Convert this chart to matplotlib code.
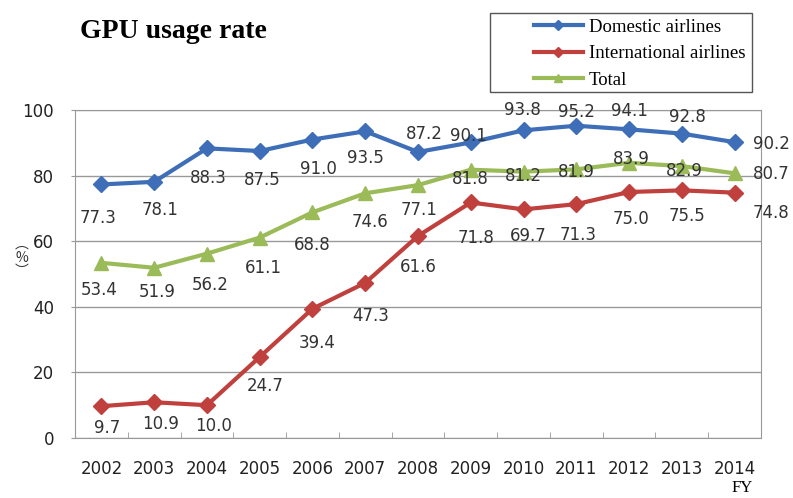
import matplotlib
matplotlib.use("Agg")
import matplotlib.pyplot as plt
from matplotlib.patches import Rectangle
import numpy as np

years = ["2002", "2003", "2004", "2005", "2006", "2007", "2008",
         "2009", "2010", "2011", "2012", "2013", "2014"]
domestic = [77.3, 78.1, 88.3, 87.5, 91.0, 93.5, 87.2, 90.1, 93.8, 95.2, 94.1, 92.8, 90.2]
international = [9.7, 10.9, 10.0, 24.7, 39.4, 47.3, 61.6, 71.8, 69.7, 71.3, 75.0, 75.5, 74.8]
total = [53.4, 51.9, 56.2, 61.1, 68.8, 74.6, 77.1, 81.8, 81.2, 81.9, 83.9, 82.9, 80.7]

# label offsets in pixels (dx, dy downward)
off_dom = [(-3, 34), (6, 28), (1, 30), (3, 29), (6, 29), (0, 27), (6, -18),
           (-2, -6), (-1, -20), (0, -14), (0, -18), (6, -17), (37, 2)]
off_int = [(6, 22), (6, 22), (7, 21), (5, 29), (5, 34), (5, 33), (0, 31),
           (5, 36), (5, 27), (2, 31), (2, 27), (5, 26), (36, 20)]
off_tot = [(-2, 27), (3, 24), (3, 31), (4, 30), (0, 33), (5, 29), (1, 25),
           (0, 9), (0, 4), (0, 3), (2, -4), (2, 5), (37, 1)]

c_dom = "#3E6EB8"
c_int = "#C0403D"
c_tot = "#9BBB59"

W, H = 793, 498
fig = plt.figure(figsize=(W / 100, H / 100), dpi=100)
ax = fig.add_axes([75 / W, 60 / H, 686 / W, 328 / H])

x = np.arange(len(years))
l1, = ax.plot(x, domestic, color=c_dom, lw=3, marker="D", ms=8.5, label="Domestic airlines", zorder=3)
l2, = ax.plot(x, international, color=c_int, lw=3, marker="D", ms=8.5, label="International airlines", zorder=3)
l3, = ax.plot(x, total, color=c_tot, lw=3, marker="^", ms=9.5, label="Total", zorder=3)

for vals, offs in [(domestic, off_dom), (international, off_int), (total, off_tot)]:
    for xi, v, (dx, dy) in zip(x, vals, offs):
        ax.annotate(f"{v:.1f}", (xi, v), xytext=(dx, -dy), textcoords="offset pixels",
                    ha="center", va="center", fontsize=12, color="#333333",
                    annotation_clip=False, zorder=4)

ax.set_xlim(-0.5, len(years) - 0.5)
ax.set_ylim(0, 100)
ax.set_yticks([0, 20, 40, 60, 80, 100])
ax.set_xticks(x)
ax.set_xticklabels(years)
ax.set_xticks(np.arange(-0.5, len(years)), minor=True)
ax.tick_params(axis="x", which="major", length=0, pad=16, labelsize=12, labelcolor="#222222")
ax.tick_params(axis="x", which="minor", direction="in", length=4, color="#999999")
ax.tick_params(axis="y", length=3, pad=12, labelsize=12, color="#999999", labelcolor="#222222")
ax.grid(axis="y", color="#999999", lw=1)
ax.set_axisbelow(True)
for s in ax.spines.values():
    s.set_color("#999999")

fig.text(80 / W, 1 - 31 / H, "GPU usage rate", fontsize=20, fontweight="bold",
         family="Liberation Serif", va="center", ha="left")
fig.text(742 / W, 1 - 488 / H, "FY", fontsize=12, family="Liberation Serif",
         va="center", ha="center")

# vertical-style "(%)" unit label
fig.text(22 / W, 1 - 258 / H, "︵\n%\n︶", fontsize=10, family=["Noto Sans CJK JP", "DejaVu Sans"],
         va="center", ha="center", multialignment="center", linespacing=0.95, color="#333333")

# legend box
fig.add_artist(Rectangle((490 / W, 1 - 92 / H), 262 / W, 79 / H, transform=fig.transFigure,
                         facecolor="white", edgecolor="#555555", lw=1, zorder=5))
leg = fig.legend(handles=[l1, l2, l3], loc="upper left", bbox_to_anchor=(530 / W, 1 - 15 / H),
                 prop={"family": "Liberation Serif", "size": 13.5}, frameon=False,
                 handlelength=2.6, handletextpad=0.35, borderpad=0.2, labelspacing=0.5,
                 markerscale=0.6, borderaxespad=0)
leg.set_zorder(6)

fig.savefig("out.png", dpi=100)
